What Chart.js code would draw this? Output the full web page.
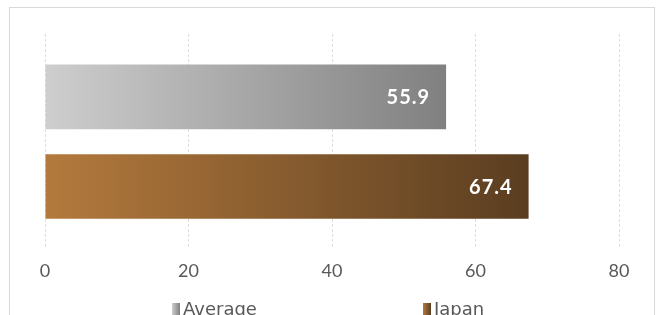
<!DOCTYPE html>
<html>
<head>
<meta charset="utf-8">
<script src="https://cdn.jsdelivr.net/npm/chart.js@4.4.1/dist/chart.umd.min.js"></script>
<style>
  html, body { margin: 0; padding: 0; background: #fff; overflow: hidden; }
  #wrap { width: 663px; height: 330px; position: relative; }
</style>
</head>
<body>
<div id="wrap"><canvas id="c"></canvas></div>
<script>
// ---- data ----
const categories = [''];
const seriesNames = ['Average', 'Japan'];
const averageValues = [55.9];
const japanValues = [67.4];
const xTicks = [0, 20, 40, 60, 80];

// gradient stops (left -> right) per series
const gradStops = {
  'Average': ['#cecece', '#808080'],
  'Japan': ['#b47a3d', '#5a3d20']
};

function barGradient(ctx) {
  const chart = ctx.chart;
  const ca = chart.chartArea;
  if (!ca) return gradStops[ctx.dataset.label][1];
  const xs = chart.scales.x;
  const x0 = xs.getPixelForValue(0);
  const x1 = xs.getPixelForValue(ctx.raw);
  const g = chart.ctx.createLinearGradient(x0, 0, x1, 0);
  const s = gradStops[ctx.dataset.label];
  g.addColorStop(0, s[0]);
  g.addColorStop(1, s[1]);
  return g;
}

const framePlugin = {
  id: 'frame',
  beforeDraw(chart) {
    const c = chart.ctx;
    c.save();
    c.strokeStyle = '#d9d9d9';
    c.lineWidth = 1;
    c.strokeRect(9.5, 7.5, 645, 400);
    c.restore();
  }
};

const labelPlugin = {
  id: 'valueLabels',
  afterDatasetsDraw(chart) {
    const c = chart.ctx;
    c.save();
    c.font = 'bold 20px "Lato", sans-serif';
    try { c.letterSpacing = '1px'; } catch (e) {}
    c.fillStyle = '#ffffff';
    c.textAlign = 'right';
    c.textBaseline = 'middle';
    chart.data.datasets.forEach((ds, i) => {
      const meta = chart.getDatasetMeta(i);
      meta.data.forEach((el, j) => {
        const v = ds.data[j];
        c.fillText(v.toFixed(1), el.x - 16, el.y + 1);
      });
    });
    c.restore();
  }
};

const legendPlugin = {
  id: 'customLegend',
  afterDraw(chart) {
    const c = chart.ctx;
    const W = chart.width;
    const positions = [0.2595, 0.638];
    c.save();
    c.font = '18px "DejaVu Sans", sans-serif';
    c.textBaseline = 'middle';
    c.textAlign = 'left';
    chart.data.datasets.forEach((ds, i) => {
      const x = Math.round(W * positions[i]);
      const y = 310;
      const s = gradStops[ds.label];
      const g = c.createLinearGradient(x, 0, x + 8, 0);
      g.addColorStop(0, s[0]);
      g.addColorStop(1, s[1]);
      c.fillStyle = g;
      c.fillRect(x, y - 7, 8, 12);
      c.fillStyle = '#595959';
      c.fillText(ds.label, x + 11, y);
    });
    c.restore();
  }
};

new Chart(document.getElementById('c'), {
  type: 'bar',
  data: {
    labels: categories,
    datasets: [
      { label: seriesNames[0], data: averageValues, backgroundColor: barGradient,
        borderWidth: 0, categoryPercentage: 0.833, barPercentage: 0.72 },
      { label: seriesNames[1], data: japanValues, backgroundColor: barGradient,
        borderWidth: 0, categoryPercentage: 0.833, barPercentage: 0.72 }
    ]
  },
  options: {
    indexAxis: 'y',
    responsive: true,
    maintainAspectRatio: false,
    animation: false,
    layout: { padding: { left: 45, right: 44, top: 34, bottom: 37 } },
    plugins: {
      legend: { display: false },
      tooltip: { enabled: false },
      title: { display: false }
    },
    scales: {
      x: {
        min: 0, max: 80,
        afterBuildTicks(scale) { scale.ticks = xTicks.map(v => ({ value: v })); },
        grid: { color: '#dedede', lineWidth: 1, drawTicks: false },
        border: { display: false, dash: [3, 2] },
        ticks: {
          color: '#595959',
          font: { family: 'Lato', size: 18 },
          padding: 11,
          maxRotation: 0
        }
      },
      y: { display: false }
    }
  },
  plugins: [framePlugin, labelPlugin, legendPlugin]
});
</script>
</body>
</html>
